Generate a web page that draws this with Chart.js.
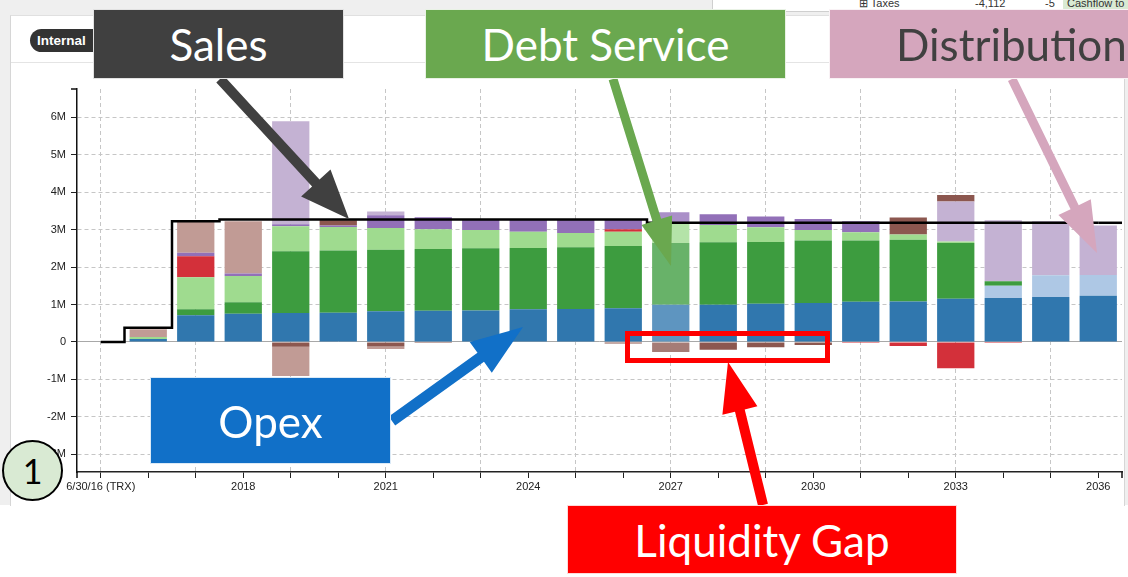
<!DOCTYPE html>
<html>
<head>
<meta charset="utf-8">
<script src="https://cdn.jsdelivr.net/npm/chart.js@4.4.0/dist/chart.umd.min.js"></script>
<style>
html,body{margin:0;padding:0;background:#fff;width:1128px;height:577px;overflow:hidden;font-family:"Liberation Sans",Arial,sans-serif;position:relative}
#bg{position:absolute;left:0;top:0;width:1128px;height:505px;background:#efefef}
#card{position:absolute;left:10px;top:15px;width:1113px;height:490px;background:#fff;border-left:1px solid #d6d6d6;border-top:1px solid #e0e0e0;border-right:1px solid #d6d6d6}
#sep{position:absolute;left:11px;top:62px;width:1112px;height:1px;background:#e4e4e4}
#tbl{position:absolute;left:712px;top:-8px;width:420px;height:18px;background:#fff;border:1px solid #cfcfcf;font-size:11px;color:#333}
#tbl span{position:absolute;top:4px;white-space:nowrap}
#pill{position:absolute;left:30px;top:29px;width:80px;height:23px;border-radius:12px;background:#333;color:#fff;font-weight:bold;font-size:13.5px;line-height:23px;padding-left:7px;box-sizing:border-box}
canvas{position:absolute;left:0;top:0}
.box{position:absolute;display:flex;align-items:center;justify-content:center;font-family:Lato,"Open Sans",sans-serif;font-size:44px;color:#fff;box-sizing:border-box;border:1px solid rgba(255,255,255,.85);white-space:nowrap;overflow:hidden}
#arrows{position:absolute;left:0;top:0}
#gap{position:absolute;left:625px;top:331px;width:205px;height:32px;border:5px solid #ff0000;box-sizing:border-box}
#circ{position:absolute;left:2px;top:440px;width:61px;height:61px;border-radius:50%;background:#d9ead3;border:2px solid #000;box-sizing:border-box;display:flex;align-items:center;justify-content:center;font-family:Lato,"Open Sans",sans-serif;font-size:34px;color:#000}
</style>
</head>
<body>
<div id="bg"></div>
<div id="card"></div>
<div id="sep"></div>
<div id="tbl"><span style="left:146px">&#8862; Taxes</span><span style="left:262px">-4,112</span><span style="left:332px">-5</span><span style="left:350px;top:0;width:80px;height:18px;background:#d9ead3;padding:4px 0 0 4px;box-sizing:border-box">Cashflow to</span></div>
<div id="pill">Internal</div>
<canvas id="c" width="1128" height="577" style="width:1128px;height:577px"></canvas>
<div id="gap"></div>
<svg id="arrows" width="1128" height="577"></svg>
<div class="box" style="left:93px;top:9px;width:251px;height:70px;background:#404040">Sales</div>
<div class="box" style="left:425px;top:9px;width:361px;height:70px;background:#6aa84f">Debt Service</div>
<div class="box" style="left:829px;top:9px;width:300px;height:70px;background:#d5a6bd;color:#404040;justify-content:flex-start;padding-left:66px">Distribution</div>
<div class="box" style="left:150px;top:377px;width:241px;height:87px;background:#1170c8">Opex</div>
<div class="box" style="left:567px;top:505px;width:390px;height:69px;background:#ff0000">Liquidity Gap</div>
<div id="circ">1</div>
<script>
// ---------- data (values in millions) ----------
const categories = ['6/30/16 (TRX)','2016','2017','2018','2019','2020','2021','2022','2023','2024','2025','2026','2027','2028','2029','2030','2031','2032','2033','2034','2035','2036'];
const opex         = [0, .08, .71, .75, .77, .78, .82, .83, .84, .87, .88, .90, .99, .99, 1.02, 1.04, 1.07, 1.08, 1.15, 1.17, 1.20, 1.23];
const reserves     = [0, 0, 0, 0, 0, 0, 0, 0, 0, 0, 0, 0, 0, 0, 0, 0, 0, 0, 0, .33, .58, .56];
const debtPrincipal= [0, 0, .16, .31, 1.65, 1.66, 1.64, 1.65, 1.66, 1.64, 1.65, 1.66, 1.65, 1.67, 1.65, 1.67, 1.64, 1.65, 1.49, .12, 0, 0];
const debtInterest = [0, .05, .86, .70, .67, .63, .58, .53, .49, .43, .38, .38, .51, .46, .39, .28, .22, .14, .04, 0, 0, 0];
const liquidity    = [0, 0, .56, 0, 0, 0, 0, 0, 0, 0, 0, .07, 0, 0, 0, 0, -.03, -.11, -.70, -.03, 0, 0];
const taxes        = [0, 0, .09, .07, .05, .04, .34, .32, .27, .32, .35, .25, .31, .29, .29, .29, .29, 0, 0, 0, 0, 0];
const distribution = [0, 0, 0, 0, 2.75, 0, .10, 0, 0, 0, 0, 0, 0, 0, 0, 0, 0, 0, 1.07, 1.63, 1.44, 1.32];
const fees         = [0, 0, 0, 0, -.13, .14, -.12, -.03, 0, 0, 0, -.04, -.27, -.21, -.14, -.08, 0, .45, .17, 0, 0, 0];
const otherCosts   = [0, .21, .84, 1.39, -.78, 0, -.07, 0, 0, 0, 0, 0, 0, 0, 0, 0, 0, 0, 0, 0, 0, 0];
const sales        = [0, .38, 3.22, 3.27, 3.27, 3.27, 3.27, 3.27, 3.27, 3.27, 3.27, 3.27, 3.18, 3.18, 3.18, 3.18, 3.18, 3.18, 3.18, 3.18, 3.18, 3.18];
const yTicks = [-3, -2, -1, 0, 1, 2, 3, 4, 5, 6];
const highlighted = '2027';

// ---------- styling ----------
const HI = categories.indexOf(highlighted);
function lighten(hex, f){
  const n = parseInt(hex.slice(1), 16);
  const ch = [n >> 16, (n >> 8) & 255, n & 255].map(v => Math.round(v + (255 - v) * f));
  return 'rgb(' + ch.join(',') + ')';
}
function barSet(label, data, color){
  return {
    type: 'bar', label, data, stack: 'flows', order: 1,
    backgroundColor: ctx => ctx.dataIndex === HI ? lighten(color, 0.22) : color,
    borderWidth: 0, barPercentage: 0.785, categoryPercentage: 1
  };
}
Chart.defaults.font.family = '"Liberation Sans", Arial, sans-serif';
Chart.defaults.font.size = 11;
Chart.defaults.color = '#222';

const extras = {
  id: 'extras',
  afterDatasetsDraw(chart){
    const {ctx, chartArea: a, scales: {x, y}} = chart;
    const last = sales.length - 1;
    const px = x.getPixelForValue(last), py = y.getPixelForValue(sales[last]);
    ctx.save();
    ctx.strokeStyle = '#000'; ctx.lineWidth = 2.5;
    ctx.beginPath(); ctx.moveTo(px, py); ctx.lineTo(a.right, py); ctx.stroke();
    ctx.restore();
  },
  afterDraw(chart){
    const {ctx, chartArea: a} = chart;
    ctx.save();
    ctx.strokeStyle = '#111'; ctx.lineWidth = 1.5;
    ctx.beginPath();
    ctx.moveTo(a.left - 6, a.top); ctx.lineTo(a.left, a.top);
    ctx.moveTo(a.left, a.bottom); ctx.lineTo(a.left, a.bottom + 6);
    ctx.moveTo(a.right, a.bottom); ctx.lineTo(a.right, a.bottom + 6);
    ctx.stroke();
    ctx.restore();
  }
};

new Chart(document.getElementById('c'), {
  data: {
    labels: categories,
    datasets: [
      {type: 'line', label: 'Sales', data: sales, stack: 'sales', order: 0, borderColor: '#000', borderWidth: 2.5, pointRadius: 0, stepped: 'middle', fill: false},
      barSet('Opex', opex, '#3077ae'),
      barSet('Reserves', reserves, '#aec8e5'),
      barSet('Debt Principal', debtPrincipal, '#3d9c3f'),
      barSet('Debt Interest', debtInterest, '#9fdb8f'),
      barSet('Liquidity', liquidity, '#d3303a'),
      barSet('Taxes', taxes, '#9270b8'),
      barSet('Distribution', distribution, '#c4b2d3'),
      barSet('Fees', fees, '#8c574f'),
      barSet('Other', otherCosts, '#c19b95')
    ]
  },
  options: {
    responsive: false, animation: false, devicePixelRatio: 1,
    layout: {padding: {left: 0, top: 89, right: 6, bottom: 65}},
    plugins: {legend: {display: false}, tooltip: {enabled: false}},
    scales: {
      x: {
        stacked: true, offset: true,
        grid: {offset: false, color: c => c.index % 2 === 0 ? '#c6c6c6' : 'rgba(0,0,0,0)', tickColor: '#222', tickLength: 6, lineWidth: 1},
        border: {display: true, color: '#222', width: 1.5, dash: [4, 3]},
        ticks: {autoSkip: false, maxRotation: 0, padding: 2, color: '#222', callback: (v, i) => i % 3 === 0 ? categories[i] : ''},
        afterFit: s => { s.height = 40; }
      },
      y: {
        stacked: true, min: -3.47, max: 6.75,
        afterBuildTicks: s => { s.ticks = yTicks.map(v => ({value: v})); },
        grid: {color: c => (c.tick && c.tick.value === 0) ? '#a8a8a8' : '#c6c6c6', tickColor: '#222', tickLength: 6, lineWidth: 1},
        border: {display: true, color: '#111', width: 1.5, dash: c => (c.tick && c.tick.value === 0) ? [] : [4, 3]},
        ticks: {padding: 5, color: '#222', callback: v => v === 0 ? '0' : v + 'M'},
        afterFit: s => { s.width = 77; }
      }
    }
  },
  plugins: [extras]
});

// ---------- annotation arrows ----------
const arrows = [
  {tail: [220, 79], tip: [349, 219], w: 10, hl: 49, hw: 20, color: '#404040'},
  {tail: [613, 79], tip: [671, 266], w: 9, hl: 48, hw: 16, color: '#6aa84f'},
  {tail: [1012, 79], tip: [1097, 253], w: 9, hl: 51, hw: 18, color: '#d5a6bd'},
  {tail: [392, 421], tip: [523, 327], w: 11, hl: 52, hw: 19, color: '#1170c8'},
  {tail: [763, 505], tip: [728, 362], w: 10, hl: 50, hw: 18, color: '#ff0000'}
];
const svg = document.getElementById('arrows');
arrows.forEach(a => {
  const dx = a.tip[0] - a.tail[0], dy = a.tip[1] - a.tail[1];
  const L = Math.hypot(dx, dy), ux = dx / L, uy = dy / L, nx = -uy, ny = ux;
  const bx = a.tip[0] - ux * a.hl, by = a.tip[1] - uy * a.hl;
  const h = a.w / 2;
  const pts = [
    [a.tail[0] + nx * h, a.tail[1] + ny * h],
    [bx + nx * h, by + ny * h],
    [bx + nx * a.hw, by + ny * a.hw],
    a.tip,
    [bx - nx * a.hw, by - ny * a.hw],
    [bx - nx * h, by - ny * h],
    [a.tail[0] - nx * h, a.tail[1] - ny * h]
  ];
  const p = document.createElementNS('http://www.w3.org/2000/svg', 'polygon');
  p.setAttribute('points', pts.map(q => q[0].toFixed(1) + ',' + q[1].toFixed(1)).join(' '));
  p.setAttribute('fill', a.color);
  svg.appendChild(p);
});
</script>
</body>
</html>
